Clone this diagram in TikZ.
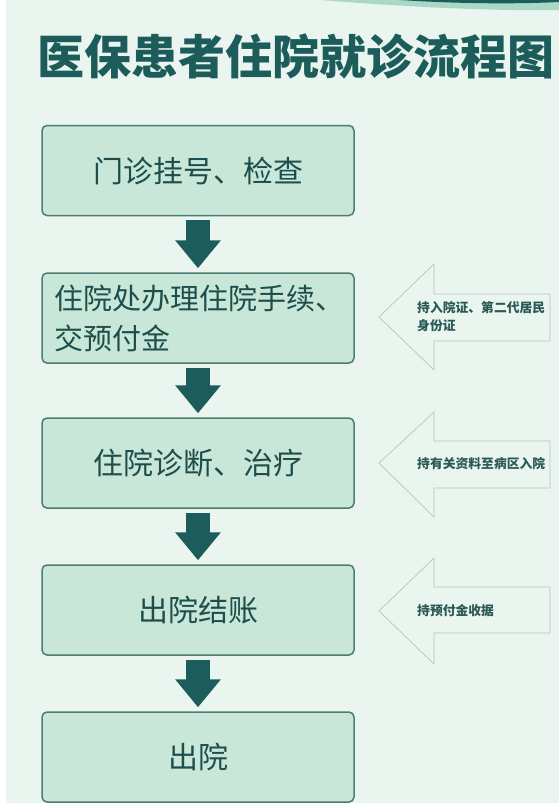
\documentclass[tikz,border=0pt]{standalone}
\usepackage{fontspec}
\newfontfamily\cjk{Noto Sans CJK SC}
\usetikzlibrary{arrows.meta,positioning}
\definecolor{bgmint}{HTML}{EAF5EF}
\definecolor{teal}{HTML}{1C5C5A}
\definecolor{stagefill}{HTML}{C8E7D8}
\definecolor{stageline}{HTML}{4C7C72}
\definecolor{stagetext}{HTML}{1E4E4C}
\definecolor{noteline}{HTML}{AFC8BE}
\definecolor{notetext}{HTML}{2B5A55}
\definecolor{wavelight}{HTML}{A9D9C6}
\tikzset{
  stage/.style={rectangle, rounded corners=5pt, draw=stageline, line width=1.5pt,
                fill=stagefill, minimum width=312pt, minimum height=90pt,
                inner sep=0pt, text=stagetext, font=\cjk\fontsize{30}{40}\selectfont},
  down/.style={line width=24pt, draw=teal, shorten <=4pt, shorten >=4pt,
               -{Triangle[length=28pt, width=44pt]}},
  hint/.style={fill=bgmint, draw=noteline, line width=0.7pt, line join=miter},
  hintlbl/.style={anchor=west, align=left, text=notetext, inner sep=0pt,
                  font=\cjk\bfseries\fontsize{12.8}{18}\selectfont},
  title/.style={text=teal, inner sep=0pt, font=\cjk\bfseries\fontsize{47}{50}\selectfont},
}

\begin{document}
\begin{tikzpicture}[x=1pt, y=-1pt]
\useasboundingbox (0,0) rectangle (559,803);

%% =====================================================================
%% background and the wave at the top
%% =====================================================================
\fill[white] (0,0) rectangle (559,803);
\fill[bgmint] (6,0) rectangle (559,803);
\fill[wavelight] (320,0) .. controls (420,8) and (500,11) .. (559,10) -- (559,0) -- cycle;
\fill[teal] (400,0) .. controls (460,4) and (520,4) .. (559,2) -- (559,0) -- cycle;

\node[title] (ttl) at (296,56) {医保患者住院就诊流程图};

%% =====================================================================
%% the five stages, top to bottom
%% =====================================================================
\node[stage] (s1) at (198,170.5) {门诊挂号、检查};
\node[stage, align=left, text width=288pt, font=\cjk\fontsize{29}{40}\selectfont]
  (s2) at (198,318) {住院处办理住院手续、\\交预付金};
\node[stage] (s3) at (198,463) {住院诊断、治疗};
\node[stage] (s4) at (198,610) {出院结账};
\node[stage] (s5) at (198,757) {出院};

%% block arrows between stages
\draw[down] (s1.south) -- (s2.north);
\draw[down] (s2.south) -- (s3.north);
\draw[down] (s3.south) -- (s4.north);
\draw[down] (s4.south) -- (s5.north);

%% =====================================================================
%% side notes: hollow arrows pointing back at the stages
%% =====================================================================
\draw[hint] (379,317) -- (434,264) -- (434,294) -- (550,294)
  -- (550,341) -- (434,341) -- (434,370) -- cycle;
\node[hintlbl] (h1) at (417,317) {持入院证、第二代居民\\身份证};

\draw[hint] (379,463) -- (434,412) -- (434,441) -- (550,441)
  -- (550,488) -- (434,488) -- (434,517) -- cycle;
\node[hintlbl] (h2) at (417,464) {持有关资料至病区入院};

\draw[hint] (379,611) -- (434,558) -- (434,587) -- (550,587)
  -- (550,633) -- (434,633) -- (434,664) -- cycle;
\node[hintlbl] (h3) at (417,611) {持预付金收据};

\end{tikzpicture}
\end{document}
